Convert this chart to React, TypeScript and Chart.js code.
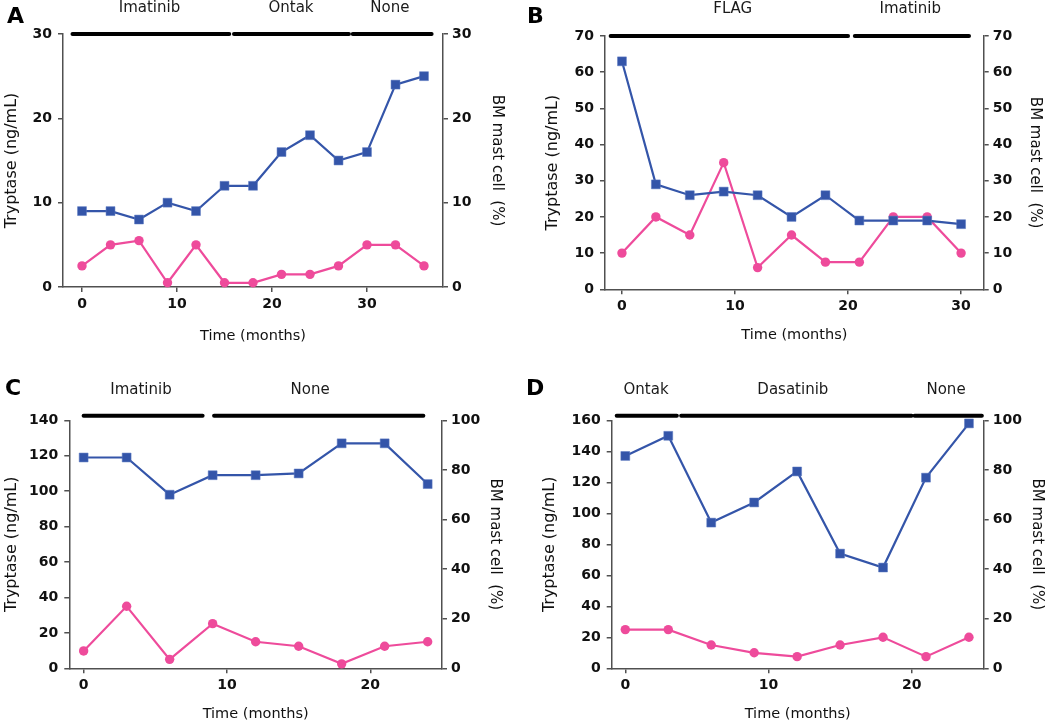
import React, { useEffect, useRef } from "react";
import { Chart, registerables } from "chart.js";

Chart.register(...registerables);

// ---------------- DATA ----------------
const monthsA = [0, 3, 6, 9, 12, 15, 18, 21, 24, 27, 30, 33, 36];
const tryptaseA = [9, 9, 8, 10, 9, 12, 12, 16, 18, 15, 16, 24, 25];
const mastCellA = [2.5, 5, 5.5, 0.5, 5, 0.5, 0.5, 1.5, 1.5, 2.5, 5, 5, 2.5];
const treatmentsA = ["Imatinib", "Ontak", "None"];
const treatmentStartA = [-1, 16, 28.5];
const treatmentEndA = [15.5, 28.1, 36.8];
const treatmentLabelAtA = [7.1, 22, 32.4];
const xTicksA = [0, 10, 20, 30];
const yTicksA = [0, 10, 20, 30];
const y2TicksA = [0, 10, 20, 30];

const monthsB = [0, 3, 6, 9, 12, 15, 18, 21, 24, 27, 30];
const tryptaseB = [63, 29, 26, 27, 26, 20, 26, 19, 19, 19, 18];
const mastCellB = [10, 20, 15, 35, 6, 15, 7.5, 7.5, 20, 20, 10];
const treatmentsB = ["FLAG", "Imatinib"];
const treatmentStartB = [-1, 20.6];
const treatmentEndB = [20, 30.7];
const treatmentLabelAtB = [9.8, 25.5];
const xTicksB = [0, 10, 20, 30];
const yTicksB = [0, 10, 20, 30, 40, 50, 60, 70];
const y2TicksB = [0, 10, 20, 30, 40, 50, 60, 70];

const monthsC = [0, 3, 6, 9, 12, 15, 18, 21, 24];
const tryptaseC = [119, 119, 98, 109, 109, 110, 127, 127, 104];
const mastCellC = [7, 25, 3.6, 18, 10.7, 8.9, 1.8, 8.9, 10.7];
const treatmentsC = ["Imatinib", "None"];
const treatmentStartC = [0, 9.1];
const treatmentEndC = [8.3, 23.7];
const treatmentLabelAtC = [4, 15.8];
const xTicksC = [0, 10, 20];
const yTicksC = [0, 20, 40, 60, 80, 100, 120, 140];
const y2TicksC = [0, 20, 40, 60, 80, 100];

const monthsD = [0, 3, 6, 9, 12, 15, 18, 21, 24];
const tryptaseD = [137, 150, 94, 107, 127, 74, 65, 123, 158];
const mastCellD = [15.6, 15.6, 9.4, 6.25, 4.7, 9.4, 12.5, 4.7, 12.5];
const treatmentsD = ["Ontak", "Dasatinib", "None"];
const treatmentStartD = [-0.6, 3.9, 20.2];
const treatmentEndD = [3.6, 20, 24.9];
const treatmentLabelAtD = [1.45, 11.7, 22.4];
const xTicksD = [0, 10, 20];
const yTicksD = [0, 20, 40, 60, 80, 100, 120, 140, 160];
const y2TicksD = [0, 20, 40, 60, 80, 100];

// ---------------- STYLE / LAYOUT ----------------
const FONT = '"DejaVu Sans", "Verdana", sans-serif';
const BLUE = "#3455a9";
const PINK = "#ee4b9b";
const AXIS = "#505050";
const TEXT = "#111111";

type PanelDef = {
  letter: string;
  months: number[];
  tryptase: number[];
  mast: number[];
  treatments: string[];
  starts: number[];
  ends: number[];
  labelAt: number[];
  xTicks: number[];
  yTicks: number[];
  y2Ticks: number[];
  xMin: number;
  xMax: number;
  yMax: number;
  y2Max: number;
  box: { left: number; top: number; w: number; h: number };
  area: { l: number; r: number; t: number; b: number };
  titleOff: { left: number; right: number; bottom: number };
  barLift: number;
  labelGap: number;
  letterPos: { x: number; y: number };
};

const panels: PanelDef[] = [
  {
    letter: "A", months: monthsA, tryptase: tryptaseA, mast: mastCellA,
    treatments: treatmentsA, starts: treatmentStartA, ends: treatmentEndA, labelAt: treatmentLabelAtA,
    xTicks: xTicksA, yTicks: yTicksA, y2Ticks: y2TicksA,
    xMin: -2, xMax: 38, yMax: 30, y2Max: 30,
    box: { left: 0, top: 0, w: 525, h: 363 },
    area: { l: 63, r: 443, t: 34, b: 287 },
    titleOff: { left: 12, right: 28, bottom: 27 },
    barLift: 0, labelGap: 25.5, letterPos: { x: 7, y: 23 },
  },
  {
    letter: "B", months: monthsB, tryptase: tryptaseB, mast: mastCellB,
    treatments: treatmentsB, starts: treatmentStartB, ends: treatmentEndB, labelAt: treatmentLabelAtB,
    xTicks: xTicksB, yTicks: yTicksB, y2Ticks: y2TicksB,
    xMin: -1.5, xMax: 32, yMax: 70, y2Max: 70,
    box: { left: 525, top: 0, w: 525, h: 363 },
    area: { l: 80, r: 458.7, t: 36, b: 289.3 },
    titleOff: { left: 28.3, right: 15, bottom: 28 },
    barLift: 0, labelGap: 26.5, letterPos: { x: 2, y: 23 },
  },
  {
    letter: "C", months: monthsC, tryptase: tryptaseC, mast: mastCellC,
    treatments: treatmentsC, starts: treatmentStartC, ends: treatmentEndC, labelAt: treatmentLabelAtC,
    xTicks: xTicksC, yTicks: yTicksC, y2Ticks: y2TicksC,
    xMin: -1, xMax: 25, yMax: 140, y2Max: 100,
    box: { left: 0, top: 363, w: 525, h: 363 },
    area: { l: 69.3, r: 442, t: 57.3, b: 305.3 },
    titleOff: { left: 11.7, right: 30, bottom: 11.3 },
    barLift: 4.6, labelGap: 26, letterPos: { x: 5, y: 32 },
  },
  {
    letter: "D", months: monthsD, tryptase: tryptaseD, mast: mastCellD,
    treatments: treatmentsD, starts: treatmentStartD, ends: treatmentEndD, labelAt: treatmentLabelAtD,
    xTicks: xTicksD, yTicks: yTicksD, y2Ticks: y2TicksD,
    xMin: -0.95, xMax: 25.03, yMax: 160, y2Max: 100,
    box: { left: 525, top: 363, w: 525, h: 363 },
    area: { l: 86.7, r: 458.7, t: 57.3, b: 305.3 },
    titleOff: { left: 25, right: 13.3, bottom: 11.3 },
    barLift: 4.6, labelGap: 25.5, letterPos: { x: 1, y: 32 },
  },
];

const TICK_FONT = { family: FONT, size: 14, weight: "bold" as const };
const YTITLE_SIZE = 16;
const Y2TITLE_SIZE = 15;
const XTITLE_SIZE = 14.5;
const TREAT_SIZE = 15;

function axisCommon() {
  return {
    grid: {
      display: true,
      drawOnChartArea: false,
      drawTicks: true,
      tickLength: 5,
      tickColor: AXIS,
      tickWidth: 1.5,
      color: AXIS,
      lineWidth: 1.5,
    },
    border: { display: true, color: AXIS, width: 1.5 },
  };
}

function PanelChart({ p }: { p: PanelDef }) {
  const ref = useRef<HTMLCanvasElement | null>(null);

  useEffect(() => {
    if (!ref.current) return;

    const overlay = {
      id: "treatments",
      afterDraw(chart: any) {
        const { ctx, chartArea } = chart;
        const x = chart.scales.x;
        const yBar = chartArea.top - p.barLift;
        ctx.save();
        ctx.strokeStyle = "#000";
        ctx.lineWidth = 4;
        ctx.lineCap = "round";
        p.starts.forEach((s, i) => {
          ctx.beginPath();
          ctx.moveTo(x.getPixelForValue(s), yBar);
          ctx.lineTo(x.getPixelForValue(p.ends[i]), yBar);
          ctx.stroke();
        });
        ctx.fillStyle = "#1a1a1a";
        ctx.font = `${TREAT_SIZE}px ${FONT}`;
        ctx.textAlign = "center";
        ctx.textBaseline = "middle";
        p.treatments.forEach((t, i) => {
          ctx.fillText(t, x.getPixelForValue(p.labelAt[i]), yBar - p.labelGap);
        });
        ctx.fillStyle = "#000";
        ctx.font = `bold 22px ${FONT}`;
        ctx.textAlign = "left";
        ctx.textBaseline = "alphabetic";
        ctx.fillText(p.letter, p.letterPos.x, p.letterPos.y);
        ctx.restore();
      },
    };

    const leftW = p.area.l;
    const rightW = p.box.w - p.area.r;
    const bottomH = p.box.h - p.area.b;

    const chart = new Chart(ref.current, {
      type: "line",
      data: {
        datasets: [
          {
            label: "Tryptase",
            data: p.months.map((m, i) => ({ x: m, y: p.tryptase[i] })),
            yAxisID: "y",
            borderColor: BLUE,
            backgroundColor: BLUE,
            borderWidth: 2.2,
            pointStyle: "rect",
            pointRadius: 6.3,
            pointBorderWidth: 0.5,
            pointBorderColor: "#5a78c0",
            pointBackgroundColor: BLUE,
            tension: 0,
            clip: false as any,
          },
          {
            label: "BM mast cell",
            data: p.months.map((m, i) => ({ x: m, y: p.mast[i] })),
            yAxisID: "y2",
            borderColor: PINK,
            backgroundColor: PINK,
            borderWidth: 2.2,
            pointStyle: "circle",
            pointRadius: 4.7,
            pointBorderWidth: 0,
            pointBackgroundColor: PINK,
            tension: 0,
            clip: false as any,
          },
        ],
      },
      options: {
        responsive: false,
        maintainAspectRatio: false,
        animation: false,
        events: [],
        layout: { padding: { top: p.area.t, left: 0, right: 0, bottom: 0 } },
        plugins: {
          legend: { display: false },
          tooltip: { enabled: false },
        },
        scales: {
          x: {
            type: "linear",
            position: "bottom",
            min: p.xMin,
            max: p.xMax,
            afterBuildTicks: (s: any) => {
              s.ticks = p.xTicks.map((v) => ({ value: v }));
            },
            afterFit: (s: any) => {
              s.height = bottomH;
            },
            ...axisCommon(),
            ticks: {
              color: TEXT,
              font: TICK_FONT,
              padding: 4,
              maxRotation: 0,
              autoSkip: false,
            },
            title: {
              display: true,
              text: "Time (months)",
              color: "#111",
              font: { family: FONT, size: XTITLE_SIZE },
              padding: { top: 0, bottom: p.titleOff.bottom - (XTITLE_SIZE * 1.2) / 2 },
            },
          },
          y: {
            type: "linear",
            position: "left",
            min: 0,
            max: p.yMax,
            afterBuildTicks: (s: any) => {
              s.ticks = p.yTicks.map((v) => ({ value: v }));
            },
            afterFit: (s: any) => {
              s.width = leftW;
            },
            ...axisCommon(),
            ticks: { color: TEXT, font: TICK_FONT, padding: 6, autoSkip: false },
            title: {
              display: true,
              text: "Tryptase (ng/mL)",
              color: "#111",
              font: { family: FONT, size: YTITLE_SIZE },
              padding: { top: p.titleOff.left - (YTITLE_SIZE * 1.2) / 2, bottom: 0 },
            },
          },
          y2: {
            type: "linear",
            position: "right",
            min: 0,
            max: p.y2Max,
            afterBuildTicks: (s: any) => {
              s.ticks = p.y2Ticks.map((v) => ({ value: v }));
            },
            afterFit: (s: any) => {
              s.width = rightW;
            },
            ...axisCommon(),
            ticks: { color: TEXT, font: TICK_FONT, padding: 4, autoSkip: false },
            title: {
              display: true,
              text: "BM mast cell  (%)",
              color: "#111",
              font: { family: FONT, size: Y2TITLE_SIZE },
              padding: { top: p.titleOff.right - (Y2TITLE_SIZE * 1.2) / 2, bottom: 0 },
            },
          },
        },
      } as any,
      plugins: [overlay],
    });

    return () => {
      chart.destroy();
    };
  }, [p]);

  return (
    <canvas
      ref={ref}
      width={p.box.w}
      height={p.box.h}
      style={{
        position: "absolute",
        left: p.box.left,
        top: p.box.top,
        width: p.box.w,
        height: p.box.h,
      }}
    />
  );
}

export default function App() {
  return (
    <div
      style={{
        position: "fixed",
        left: 0,
        top: 0,
        width: 1050,
        height: 726,
        background: "#ffffff",
        overflow: "hidden",
      }}
    >
      {panels.map((p) => (
        <PanelChart key={p.letter} p={p} />
      ))}
    </div>
  );
}
